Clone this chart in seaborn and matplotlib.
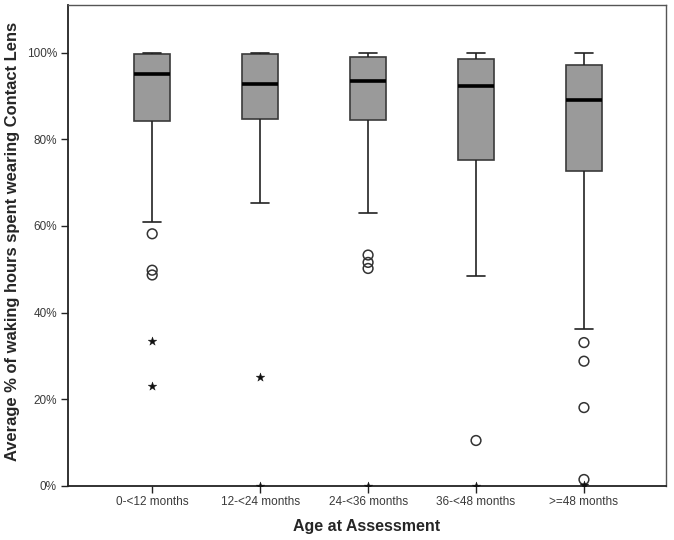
import numpy as np
import pandas as pd
import matplotlib
matplotlib.use("Agg")
import matplotlib.pyplot as plt
import seaborn as sns
from matplotlib.ticker import FuncFormatter

groups = ["0-<12 months", "12-<24 months", "24-<36 months", "36-<48 months", ">=48 months"]

# five-number summaries (whisker low, Q1, median, Q3, whisker high), %
whisker_low = [61.0, 65.4, 63.0, 48.5, 36.2]
q1 = [84.3, 84.6, 84.4, 75.3, 72.6]
median = [95.1, 92.8, 93.4, 92.3, 89.0]
q3 = [99.8, 99.8, 99.0, 98.5, 97.2]
whisker_high = [100.0, 100.0, 100.0, 100.0, 100.0]

# outliers (circles) and extreme values (stars)
circle_groups = ["0-<12 months"] * 3 + ["24-<36 months"] * 3 + ["36-<48 months"] + [">=48 months"] * 4
circle_values = [58.2, 49.8, 48.7, 53.3, 51.6, 50.2, 10.5, 33.1, 28.8, 18.1, 1.5]
star_groups = ["0-<12 months", "0-<12 months", "12-<24 months", "12-<24 months",
               "24-<36 months", "36-<48 months", ">=48 months"]
star_values = [33.4, 23.0, 25.1, 0.0, 0.0, 0.0, 0.3]

rows = []
for g, a, b, c, d, e in zip(groups, whisker_low, q1, median, q3, whisker_high):
    for v in (a, b, c, d, e):
        rows.append({"group": g, "value": v})
box_df = pd.DataFrame(rows)
circ_df = pd.DataFrame({"group": circle_groups, "value": circle_values})
star_df = pd.DataFrame({"group": star_groups, "value": star_values})

sns.set_style("white")
plt.rcParams["font.family"] = ["Liberation Sans", "DejaVu Sans"]

fig = plt.figure(figsize=(6.74, 5.4), dpi=100)
ax = fig.add_axes([68 / 674, 54 / 540, (666 - 68) / 674, (486 - 5) / 540])

sns.boxplot(data=box_df, x="group", y="value", order=groups, whis=(0, 100),
            width=0.33, color="#9a9a9a", linecolor="#222222", linewidth=1.2,
            medianprops={"color": "black", "linewidth": 2.6},
            showfliers=False, ax=ax)
for p in ax.patches:
    p.set_facecolor("#9a9a9a")
    p.set_edgecolor("#3a3a3a")

sns.stripplot(data=circ_df, x="group", y="value", order=groups, jitter=False,
              marker="o", size=7, facecolor="none", color="#333333",
              edgecolor="#333333", linewidth=1.1, ax=ax, zorder=5)
sns.stripplot(data=star_df, x="group", y="value", order=groups, jitter=False,
              marker="*", size=6.5, color="#111111", edgecolor="#111111",
              linewidth=0.3, ax=ax, zorder=5)

ax.set_xlim(-0.78, 4.76)
ax.set_ylim(0, 111)
ax.set_yticks([0, 20, 40, 60, 80, 100])
ax.yaxis.set_major_formatter(FuncFormatter(lambda v, p: f"{v:.0f}%"))
ax.tick_params(axis="both", which="major", direction="out", length=5, width=1,
               color="#222222", labelsize=8.5, labelcolor="#3a3a3a", pad=3)
ax.tick_params(axis="x", pad=2)
ax.tick_params(left=True, bottom=True)

for s in ["top", "right"]:
    ax.spines[s].set_color("#555555")
    ax.spines[s].set_linewidth(1.0)
for s in ["left", "bottom"]:
    ax.spines[s].set_color("#222222")
    ax.spines[s].set_linewidth(1.3)

ax.set_xlabel("Age at Assessment", fontsize=11.5, fontweight="bold", labelpad=8)
ax.set_ylabel("Average % of waking hours spent wearing Contact Lens",
              fontsize=11.9, fontweight="bold")
ax.yaxis.set_label_coords(-0.080, 0.509)

fig.savefig("out.png", dpi=100)
